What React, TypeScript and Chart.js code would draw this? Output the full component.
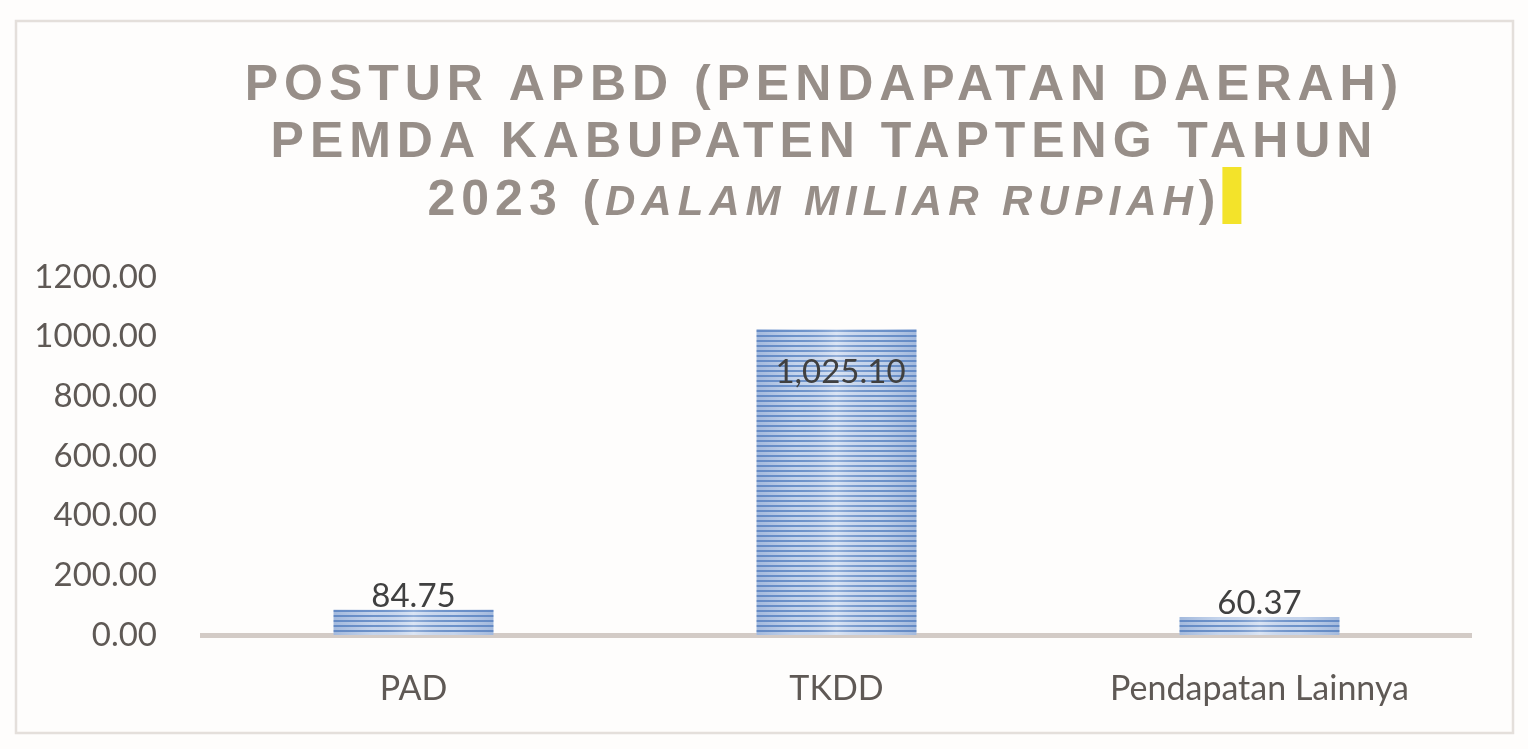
import React, { useEffect, useRef } from "react";
import { Chart, registerables } from "chart.js";
Chart.register(...registerables);

const categories = ["PAD", "TKDD", "Pendapatan Lainnya"];
const values = [84.75, 1025.1, 60.37];
const valueLabels = ["84.75", "1,025.10", "60.37"];
const yTicks = [0, 200, 400, 600, 800, 1000, 1200];
const titleLines = ["POSTUR APBD (PENDAPATAN DAERAH)", "PEMDA KABUPATEN TAPTENG TAHUN"];
const titleYear = "2023 (";
const titleUnit = "DALAM MILIAR RUPIAH";
const titleClose = ")";

const W = 1528;
const H = 749;
const TITLE_COLOR = "#978e88";
const TITLE_FONT = "'Liberation Sans', Arial, sans-serif";
const LABEL_FONT = "Lato, 'Open Sans', sans-serif";

function makeStripe(): CanvasPattern | string {
  const c = document.createElement("canvas");
  c.width = 8;
  c.height = 5;
  const g = c.getContext("2d");
  if (!g) return "#8eaad8";
  g.fillStyle = "#cfdcf0";
  g.fillRect(0, 0, 8, 5);
  g.fillStyle = "#6f94cb";
  g.fillRect(0, 0, 8, 2);
  const p = g.createPattern(c, "repeat");
  return p || "#8eaad8";
}

const framePlugin = {
  id: "frame",
  beforeDraw(chart: any) {
    const ctx = chart.ctx;
    ctx.save();
    ctx.fillStyle = "#fefdfc";
    ctx.fillRect(0, 0, chart.width, chart.height);
    ctx.strokeStyle = "#e4dfdb";
    ctx.lineWidth = 2.5;
    ctx.strokeRect(16, 21, chart.width - 31, chart.height - 37);
    ctx.restore();
  },
};

const titlePlugin = {
  id: "customTitle",
  afterDraw(chart: any) {
    const ctx = chart.ctx;
    const cx = 821.5;
    const sp = 5.95;
    ctx.save();
    ctx.fillStyle = TITLE_COLOR;
    ctx.textBaseline = "alphabetic";
    ctx.textAlign = "left";
    (ctx as any).letterSpacing = sp + "px";
    const big = "bold 50px " + TITLE_FONT;
    const ital = "italic bold 42px " + TITLE_FONT;
    const baselines = [100, 157];
    titleLines.forEach((line, i) => {
      ctx.font = big;
      const w = ctx.measureText(line).width - sp;
      ctx.fillText(line, cx - w / 2, baselines[i]);
    });
    ctx.font = big;
    const w1 = ctx.measureText(titleYear).width;
    const w3 = ctx.measureText(titleClose).width - sp;
    ctx.font = ital;
    const w2 = ctx.measureText(titleUnit).width;
    const total = w1 + w2 + w3;
    let x = cx - total / 2;
    const y3 = 215;
    ctx.font = big;
    ctx.fillText(titleYear, x, y3);
    x += w1;
    ctx.font = ital;
    ctx.fillText(titleUnit, x, y3);
    x += w2;
    ctx.font = big;
    ctx.fillText(titleClose, x, y3);
    x += w3;
    ctx.fillStyle = "#f3e32a";
    ctx.fillRect(x + 7, 167, 19, 57);
    ctx.restore();
  },
};

const barDecorPlugin = {
  id: "barDecor",
  afterDatasetsDraw(chart: any) {
    const ctx = chart.ctx;
    const meta = chart.getDatasetMeta(0);
    ctx.save();
    meta.data.forEach((el: any, i: number) => {
      const { x, y, base, width } = el.getProps(["x", "y", "base", "width"], true);
      const left = x - width / 2;
      const g = ctx.createLinearGradient(left, 0, left + width, 0);
      g.addColorStop(0, "rgba(80,120,185,0.35)");
      g.addColorStop(0.25, "rgba(80,120,185,0.08)");
      g.addColorStop(0.5, "rgba(255,255,255,0.25)");
      g.addColorStop(0.75, "rgba(80,120,185,0.08)");
      g.addColorStop(1, "rgba(80,120,185,0.35)");
      ctx.fillStyle = g;
      ctx.fillRect(left, y, width, base - y);

      ctx.font = "33px " + LABEL_FONT;
      ctx.fillStyle = "#404040";
      ctx.textAlign = "center";
      ctx.textBaseline = "alphabetic";
      const inside = y - chart.chartArea.top < 80;
      const ty = inside ? y + 54 : y - 3;
      ctx.fillText(valueLabels[i], x + (inside ? 4 : 0), ty);
    });
    ctx.restore();
  },
};

export default function App() {
  const ref = useRef<HTMLCanvasElement | null>(null);
  useEffect(() => {
    if (!ref.current) return;
    const chart = new Chart(ref.current, {
      type: "bar",
      data: {
        labels: categories,
        datasets: [
          {
            data: values,
            backgroundColor: makeStripe() as any,
            borderWidth: 0,
            categoryPercentage: 1,
            barPercentage: 0.378,
          },
        ],
      },
      options: {
        animation: false,
        responsive: false,
        layout: { padding: { top: 277, left: 0, right: 57, bottom: 0 } },
        plugins: {
          legend: { display: false },
          title: { display: false },
          tooltip: { enabled: false },
        },
        scales: {
          x: {
            grid: { display: false },
            border: { display: true, color: "#d3cbc6", width: 5 },
            ticks: {
              color: "#5f5955",
              font: { family: LABEL_FONT, size: 34 },
              padding: 26,
              maxRotation: 0,
            },
            afterFit: (s: any) => {
              s.height = 114;
            },
          },
          y: {
            min: 0,
            max: 1200,
            grid: { display: false },
            border: { display: false },
            afterBuildTicks: (s: any) => {
              s.ticks = yTicks.map((v) => ({ value: v }));
            },
            ticks: {
              color: "#5f5955",
              font: { family: LABEL_FONT, size: 33 },
              padding: 37,
              callback: (v: any) => Number(v).toFixed(2),
            },
            afterFit: (s: any) => {
              s.width = 202;
            },
          },
        },
      },
      plugins: [framePlugin, titlePlugin, barDecorPlugin],
    });
    return () => chart.destroy();
  }, []);
  return (
    <div style={{ position: "fixed", left: 0, top: 0, width: W, height: H, background: "#fefdfc" }}>
      <canvas ref={ref} width={W} height={H} style={{ width: W, height: H, display: "block" }} />
    </div>
  );
}
